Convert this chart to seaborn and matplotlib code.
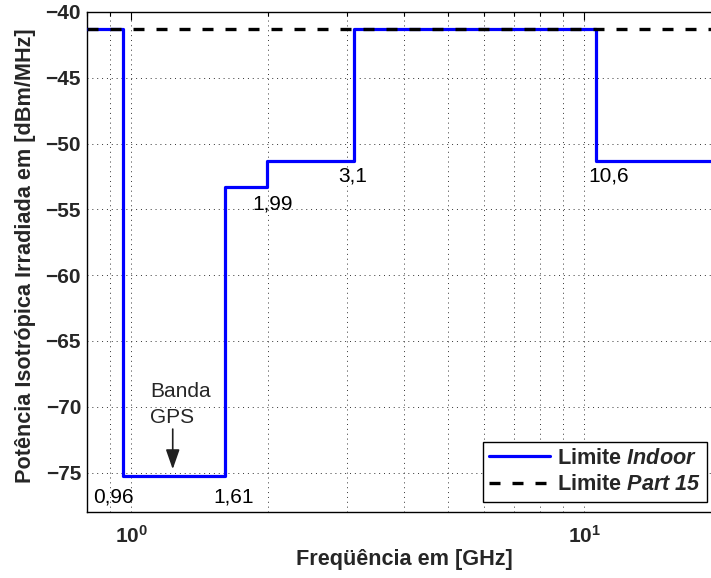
import numpy as np
import pandas as pd
import matplotlib
matplotlib.use("Agg")
import matplotlib.pyplot as plt
from matplotlib.ticker import LogLocator, NullFormatter
import seaborn as sns

# UWB emission masks (FCC), EIRP in dBm/MHz over frequency in GHz
band_edges_ghz = [0.8, 0.96, 1.61, 1.99, 3.1, 10.6, 20.0]
indoor_limit_dbm = [-41.3, -75.3, -53.3, -51.3, -41.3, -51.3]
part15_limit_dbm = -41.3
edge_labels = ["0,96", "1,61", "1,99", "3,1", "10,6"]
y_ticks = [-75, -70, -65, -60, -55, -50, -45, -40]
x_ticks = [1, 10]
x_tick_labels = [r"$\mathbf{10^{0}}$", r"$\mathbf{10^{1}}$"]

# text anchors for the band-edge annotations (GHz, dBm/MHz)
edge_label_pos = [(0.8245, -77.25), (1.519, -77.25), (1.849, -55.0),
                  (2.862, -52.9), (10.22, -52.9)]

sns.set_style("white")
plt.rcParams["font.family"] = ["Liberation Sans", "DejaVu Sans"]
plt.rcParams["mathtext.fontset"] = "custom"
plt.rcParams["mathtext.rm"] = "Liberation Sans"
plt.rcParams["mathtext.it"] = "Liberation Sans:italic"
plt.rcParams["mathtext.bf"] = "Liberation Sans:bold"
plt.rcParams["mathtext.bfit"] = "Liberation Sans:italic:bold"

FS = 15
FS_LABEL = 15.6

fig = plt.figure(figsize=(7.11, 5.78), dpi=100)
ax = fig.add_axes([0.1228, 0.1142, 0.8906, 0.8651])

indoor = pd.DataFrame({
    "freq": band_edges_ghz,
    "limit": indoor_limit_dbm + [indoor_limit_dbm[-1]],
})
part15 = pd.DataFrame({
    "freq": [band_edges_ghz[0], band_edges_ghz[-1]],
    "limit": [part15_limit_dbm, part15_limit_dbm],
})

sns.lineplot(data=indoor, x="freq", y="limit", ax=ax, estimator=None, sort=False,
             drawstyle="steps-post", color="#0000ff", linewidth=2.3,
             label=r"Limite $\mathbfit{Indoor}$", zorder=3)
sns.lineplot(data=part15, x="freq", y="limit", ax=ax, estimator=None, sort=False,
             color="black", linewidth=2.4, linestyle=(0, (3.3, 3.6)),
             label=r"Limite $\mathbfit{Part\ 15}$", zorder=4)

ax.set_xscale("log")
ax.set_xlim(0.8, 20)
ax.set_ylim(-78, -40)

ax.set_xticks(x_ticks)
ax.set_xticklabels(x_tick_labels, fontsize=FS)
ax.xaxis.set_minor_locator(LogLocator(base=10, subs=np.arange(2, 10)))
ax.xaxis.set_minor_formatter(NullFormatter())
ax.set_yticks(y_ticks)
ax.set_yticklabels([f"\u2212{abs(v)}" for v in y_ticks], fontsize=FS,
                   fontweight="bold")

ax.tick_params(which="both", direction="in", top=True, right=True,
               color="black", width=0.8)
ax.tick_params(which="major", length=6)
ax.tick_params(which="minor", length=3)
ax.tick_params(axis="x", which="major", pad=9)
ax.tick_params(axis="y", which="major", pad=4.5)

grid_style = dict(color="#333333", linestyle=(0, (1, 4)), linewidth=0.7)
ax.grid(True, which="both", axis="x", **grid_style)
ax.grid(True, which="major", axis="y", **grid_style)

for sp in ax.spines.values():
    sp.set_color("black")
    sp.set_linewidth(1.0)

ax.set_xlabel("Freqüência em [GHz]", fontsize=FS_LABEL, fontweight="bold")
ax.set_ylabel("Potência Isotrópica Irradiada em [dBm/MHz]", fontsize=FS_LABEL,
              fontweight="bold")
ax.xaxis.set_label_coords(0.5, -0.074)
ax.yaxis.set_label_coords(-0.081, 0.513)

for txt, (lx, ly) in zip(edge_labels, edge_label_pos):
    ax.text(lx, ly, txt, fontsize=FS, ha="left", va="baseline", color="black")

ax.text(1.103, -69.27, "Banda", fontsize=FS, ha="left", va="baseline")
ax.text(1.103, -71.2, "GPS", fontsize=FS, ha="left", va="baseline")
ax.annotate("", xy=(1.235, -74.75), xytext=(1.235, -71.7),
            arrowprops=dict(arrowstyle="-|>,head_length=1.0,head_width=0.35",
                            mutation_scale=12, color="#202020", lw=1.2,
                            shrinkA=0, shrinkB=0))

leg = ax.legend(loc="lower right", bbox_to_anchor=(0.979, 0.02),
                borderaxespad=0, frameon=True, fancybox=False, framealpha=1,
                edgecolor="black", prop={"weight": "bold", "size": FS_LABEL},
                handlelength=2.8, handletextpad=0.3, labelspacing=0.25,
                borderpad=0.3)
leg.get_frame().set_linewidth(1.0)

fig.savefig("out.png", dpi=100)
